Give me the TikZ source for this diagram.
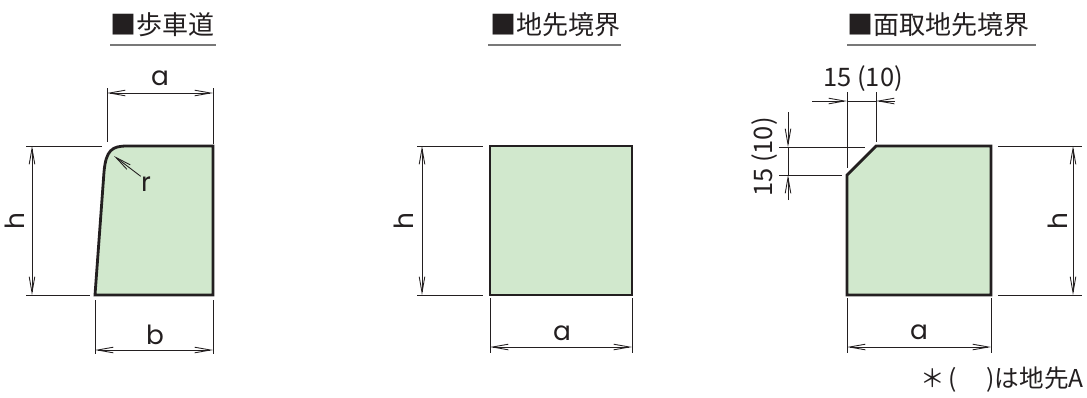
\documentclass[tikz,border=0pt]{standalone}
\usepackage{fontspec}
\newfontfamily\jp{Noto Sans CJK JP}
\newfontfamily\lat{Poppins}
\usetikzlibrary{arrows.meta}
\definecolor{ink}{RGB}{35,31,32}
\definecolor{curbgreen}{RGB}{209,232,205}
\definecolor{rulegray}{RGB}{120,120,120}
\begin{document}
\begin{tikzpicture}[x=0.02cm, y=-0.02cm,
    block/.style={draw=ink, line width=1.6pt, fill=curbgreen, line join=miter},
    dimline/.style={draw=ink, line width=0.5pt, {Straight Barb[length=9pt,width=3.2pt]}-{Straight Barb[length=9pt,width=3.2pt]}},
    pointer/.style={draw=ink, line width=0.5pt, -{Straight Barb[length=9pt,width=3.2pt]}},
    extline/.style={draw=ink, line width=0.5pt},
    heading/.style={anchor=west, inner sep=0pt, text=ink, font=\jp\fontsize{14.8}{16}\selectfont},
    underline/.style={draw=rulegray, line width=0.7pt},
    dimlabel/.style={inner sep=0pt, text=ink, font=\lat\fontsize{15}{17}\selectfont},
    numlabel/.style={inner sep=0pt, text=ink, font=\jp\fontsize{14.5}{16}\selectfont}]
    \useasboundingbox (0,0) rectangle (1087,397);

    % Draw headings
    \node[heading] (walk) at (110,25) {■歩車道};
    \node[heading] (edge) at (490,25) {■地先境界};
    \node[heading] (chamfer) at (847,25) {■面取地先境界};
    \draw[underline] (110,45) -- (216,45);
    \draw[underline] (488,45) -- (621,45);
    \draw[underline] (847,45) -- (1036,45);

    % Draw sections
    \draw[block] (95,295) -- (104,172) .. controls (106,150) and (112,146) .. (127,146) -- (213,146) -- (213,295) -- cycle;
    \draw[block] (490,146) rectangle (632,295);
    \draw[block] (847,175) -- (876,146) -- (991,146) -- (991,295) -- (847,295) -- cycle;

    % 歩車道 dimensions
    \coordinate (wal) at (107,93);
    \coordinate (war) at (213,93);
    \coordinate (wht) at (32,146);
    \coordinate (whb) at (32,295);
    \coordinate (wbl) at (95,350);
    \coordinate (wbr) at (213,350);
    \coordinate (wrc) at (114,156);
    \draw[extline] (107,88) -- (107,142);
    \draw[extline] (213,88) -- (213,144);
    \draw[extline] (26,146) -- (102,146);
    \draw[extline] (26,295) -- (90,295);
    \draw[extline] (95,300) -- (95,354);
    \draw[extline] (213,300) -- (213,354);
    \draw[dimline] (wal) -- (war);
    \draw[dimline] (wht) -- (whb);
    \draw[dimline] (wbl) -- (wbr);
    \node[dimlabel] (wa) at (160,78) {a};
    \node[dimlabel, rotate=90] (wh) at (15,221) {h};
    \node[dimlabel] (wb) at (155,335) {b};
    \node[dimlabel] (wr) at (146,184) {r};
    \draw[pointer] (wr.north west) -- (wrc);

    % 地先境界 dimensions
    \coordinate (eht) at (422,146);
    \coordinate (ehb) at (422,295);
    \coordinate (eal) at (490,347);
    \coordinate (ear) at (632,347);
    \draw[extline] (417,146) -- (483,146);
    \draw[extline] (417,295) -- (483,295);
    \draw[extline] (490,298) -- (490,353);
    \draw[extline] (632,298) -- (632,353);
    \draw[dimline] (eht) -- (ehb);
    \draw[dimline] (eal) -- (ear);
    \node[dimlabel, rotate=90] (eh) at (404,221) {h};
    \node[dimlabel] (ea) at (562,333) {a};

    % 面取地先境界 dimensions
    \coordinate (cxo) at (812,101);
    \coordinate (cxl) at (847,101);
    \coordinate (cxr) at (876,101);
    \coordinate (cxe) at (895,101);
    \coordinate (cyo) at (788,112);
    \coordinate (cyt) at (788,147);
    \coordinate (cyb) at (788,175);
    \coordinate (cye) at (788,200);
    \coordinate (cht) at (1073,146);
    \coordinate (chb) at (1073,295);
    \coordinate (cal) at (847,347);
    \coordinate (car) at (991,347);
    \draw[extline] (847,92) -- (847,168);
    \draw[extline] (876,92) -- (876,142);
    \draw[extline] (779,147) -- (865,147);
    \draw[extline] (779,175) -- (842,175);
    \draw[extline] (998,146) -- (1082,146);
    \draw[extline] (998,295) -- (1082,295);
    \draw[extline] (847,298) -- (847,353);
    \draw[extline] (991,298) -- (991,353);
    \draw[extline] (cxl) -- (cxr);
    \draw[pointer] (cxo) -- (cxl);
    \draw[pointer] (cxe) -- (cxr);
    \draw[extline] (cyt) -- (cyb);
    \draw[pointer] (cyo) -- (cyt);
    \draw[pointer] (cye) -- (cyb);
    \draw[dimline] (cht) -- (chb);
    \draw[dimline] (cal) -- (car);
    \node[numlabel] (cx) at (863,79) {15 (10)};
    \node[numlabel, rotate=90] (cy) at (765,157) {15 (10)};
    \node[dimlabel, rotate=90] (ch) at (1058,221) {h};
    \node[dimlabel] (ca) at (919,332) {a};

    % Note
    \node[numlabel, anchor=east, font=\jp\fontsize{14}{16}\selectfont] (note) at (1084,380) {＊\,(\hspace{1.2em})は地先A};
\end{tikzpicture}
\end{document}
